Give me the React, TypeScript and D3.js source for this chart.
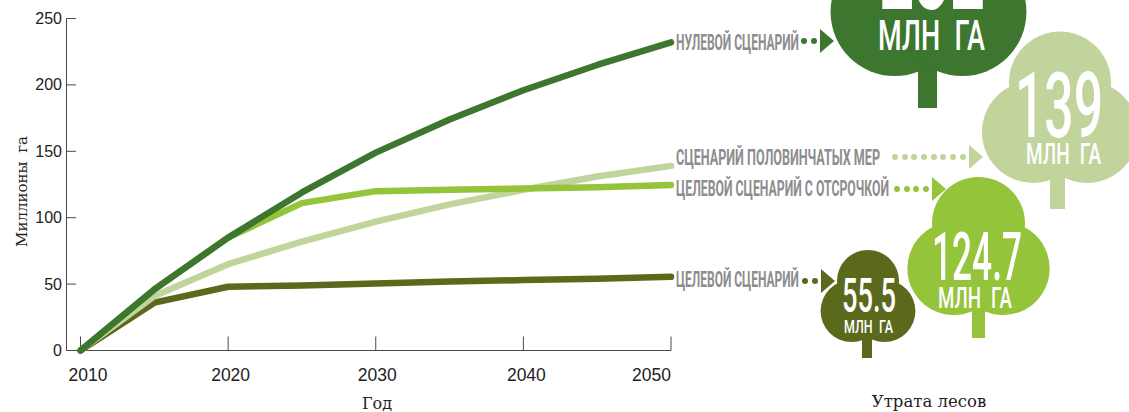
import React from 'react';
import * as d3 from 'd3';

const years = [2010, 2015, 2020, 2025, 2030, 2035, 2040, 2045, 2050];
const zeroScenario = [0, 46, 85, 119, 149, 174, 196, 215, 232];
const halfScenario = [0, 41, 65, 82, 97, 110, 121, 131, 139];
const delayScenario = [0, 46, 85, 111, 120, 121, 122, 123, 124.7];
const targetScenario = [0, 36, 48, 49, 50.5, 52, 53, 54, 55.5];
const yTicks = [0, 50, 100, 150, 200, 250];
const xTicks = [2010, 2020, 2030, 2040, 2050];

const DARK = '#3c762f';
const LIGHT = '#c0d49c';
const LIME = '#94c43a';
const OLIVE = '#5a691c';
const GREY = '#8d8d8f';
const AXIS = '#4a4a4a';
const SANS = "'Liberation Sans', Arial, sans-serif";
const COND = "Roboto, 'Liberation Sans', sans-serif";
const SERIF = "'DejaVu Serif', serif";

const x = d3.scaleLinear().domain([2010, 2050]).range([80.5, 671]);
const y = d3.scaleLinear().domain([0, 250]).range([350.5, 18.5]);

const lineGen = d3
  .line<number>()
  .x((_, i) => x(years[i]))
  .y((d) => y(d));

const drawOrder = [
  { values: targetScenario, color: OLIVE },
  { values: halfScenario, color: LIGHT },
  { values: delayScenario, color: LIME },
  { values: zeroScenario, color: DARK },
];

const xLabelShift: Record<number, number> = { 2010: 7.5, 2020: 2.5, 2030: 1.5, 2040: 3 };

const legend = [
  { label: 'НУЛЕВОЙ СЦЕНАРИЙ', color: DARK, ly: 50, lw: 123, dots: [804, 814], dy: 41, ax: 820, aw: 14, ah: 12 },
  { label: 'СЦЕНАРИЙ ПОЛОВИНЧАТЫХ МЕР', color: LIGHT, ly: 165, lw: 204, dots: [895, 905, 914, 924, 934, 943, 953, 963], dy: 157, ax: 969, aw: 14, ah: 12 },
  { label: 'ЦЕЛЕВОЙ СЦЕНАРИЙ С ОТСРОЧКОЙ', color: LIME, ly: 196, lw: 213, dots: [897, 907, 916, 926], dy: 189, ax: 932, aw: 14, ah: 12 },
  { label: 'ЦЕЛЕВОЙ СЦЕНАРИЙ', color: OLIVE, ly: 287, lw: 123, dots: [805, 815], dy: 281, ax: 821, aw: 14, ah: 12 },
];

const trees = [
  { text: '232', color: DARK, r: 64, cx: 928.5, base: 76, trunk: [918, 937], trunkEnd: 108, num: [879, 106, 9, 114], unit: [878, 107, 50, 42], ws: 12 },
  { text: '139', color: LIGHT, r: 51, cx: 1060, base: 183, trunk: [1050, 1065], trunkEnd: 209, num: [1015, 88, 137, 91], unit: [1026, 75, 164, 29], ws: 8 },
  { text: '124.7', color: LIME, r: 46.5, cx: 978.5, base: 315, trunk: [972, 985], trunkEnd: 338, num: [932, 90, 280, 66], unit: [938, 74, 308, 29], ws: 8 },
  { text: '55.5', color: OLIVE, r: 31, cx: 868, base: 342, trunk: [862, 872], trunkEnd: 358, num: [842, 54, 312, 49], unit: [844, 49, 333, 19], ws: 5 },
];

function Tree({ t }: { t: (typeof trees)[number] }) {
  const r = t.r;
  const sideY = t.base - r;
  const circles = [
    [t.cx, sideY - 0.97 * r],
    [t.cx - 0.53 * r, sideY],
    [t.cx + 0.53 * r, sideY],
  ];
  return (
    <g>
      {circles.map(([cx, cy], i) => (
        <circle key={i} cx={cx} cy={cy} r={r} fill="#fff" stroke="#fff" strokeWidth={3} />
      ))}
      <rect x={t.trunk[0]} y={sideY} width={t.trunk[1] - t.trunk[0]} height={t.trunkEnd - sideY} fill={t.color} />
      {circles.map(([cx, cy], i) => (
        <circle key={i} cx={cx} cy={cy} r={r} fill={t.color} />
      ))}
      <text x={t.num[0]} y={t.num[2]} fontFamily={COND} fontWeight={500} fontSize={t.num[3]} fill="#fff" textLength={t.num[1]} lengthAdjust="spacingAndGlyphs">
        {t.text}
      </text>
      <text x={t.unit[0]} y={t.unit[2]} fontFamily={COND} fontWeight={500} fontSize={t.unit[3]} fill="#fff" textLength={t.unit[1]} lengthAdjust="spacingAndGlyphs" style={{ wordSpacing: t.ws }}>
        МЛН ГА
      </text>
    </g>
  );
}

export default function App() {
  return (
    <svg width={1129} height={412} style={{ position: 'absolute', left: 0, top: 0, background: '#fff' }}>
      <g stroke={AXIS} strokeWidth={1} fill="none">
        <line x1={66.5} x2={66.5} y1={y(250)} y2={y(0)} />
        <line x1={66.5} x2={x(2050)} y1={y(0)} y2={y(0)} />
        {yTicks.map((t) => (
          <line key={t} x1={66.5} x2={76} y1={y(t)} y2={y(t)} />
        ))}
        {xTicks.map((t) => (
          <line key={t} x1={x(t)} x2={x(t)} y1={y(0) - 14} y2={y(0)} />
        ))}
      </g>
      <g fontFamily={SANS} fill="#222">
        {yTicks.map((t) => (
          <text key={t} x={62} y={y(t) + 5.5} textAnchor="end" fontSize={16}>
            {t}
          </text>
        ))}
        {xTicks.map((t) => (
          <text key={t} x={x(t) + (xLabelShift[t] ?? 0)} y={381} textAnchor={t === 2050 ? 'end' : 'middle'} fontSize={17.5}>
            {t}
          </text>
        ))}
      </g>
      <text transform="translate(27,191.5) rotate(-90)" textAnchor="middle" fontFamily={SERIF} fontSize={15} fill="#222" style={{ wordSpacing: 4 }}>
        Миллионы га
      </text>
      <text x={377} y={409} textAnchor="middle" fontFamily={SERIF} fontSize={16} fill="#222">
        Год
      </text>
      <text x={929} y={407} textAnchor="middle" fontFamily={SERIF} fontSize={16.5} fill="#222">
        Утрата лесов
      </text>

      {drawOrder.map((s) => (
        <path key={s.color} d={lineGen(s.values) ?? ''} fill="none" stroke={s.color} strokeWidth={6.5} strokeLinecap="round" strokeLinejoin="round" />
      ))}

      {trees.map((t) => (
        <Tree key={t.text} t={t} />
      ))}

      {legend.map((l) => (
        <g key={l.label}>
          <text x={676} y={l.ly} fontFamily={COND} fontWeight={700} fontSize={22.5} fill={GREY} textLength={l.lw} lengthAdjust="spacingAndGlyphs">
            {l.label}
          </text>
          {l.dots.map((dx) => (
            <circle key={dx} cx={dx} cy={l.dy} r={3} fill={l.color} />
          ))}
          <path d={`M${l.ax},${l.dy - l.ah}L${l.ax + l.aw},${l.dy}L${l.ax},${l.dy + l.ah}Z`} fill={l.color} />
        </g>
      ))}
    </svg>
  );
}
